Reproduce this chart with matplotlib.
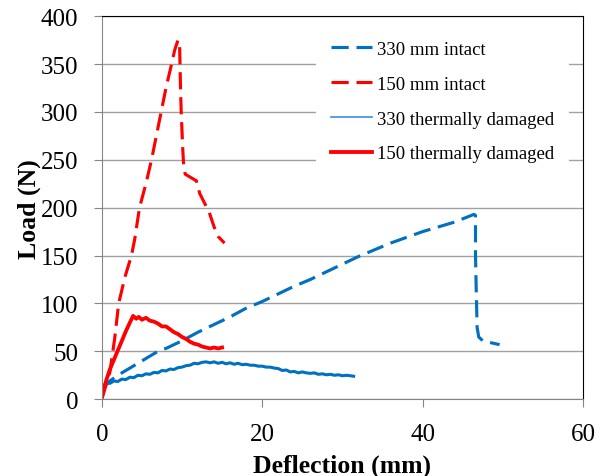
import numpy as np
import matplotlib.pyplot as plt
from matplotlib.lines import Line2D

plt.rcParams['font.family'] = ['Liberation Serif', 'DejaVu Serif']

# 330 mm intact (blue dashed)
x330_intact = [0, 0.5, 1, 2, 3, 4, 5, 6, 7, 8, 9, 10, 12, 14, 16, 18, 20, 22, 24,
               26, 28, 30, 32, 34, 36, 38, 40, 42, 44, 45.5, 46.4, 46.6, 46.6,
               46.7, 46.8, 47.0, 47.5, 48.5, 49.6]
y330_intact = [10, 15, 19, 25, 30, 35, 40, 45, 50, 53, 57, 61, 70, 78, 86, 95, 102,
               110, 118, 125, 133, 141, 149, 156, 163, 169, 175, 180, 185, 190, 193,
               192, 150, 110, 75, 65, 61, 59, 57]

# 150 mm intact (red dashed)
x150_intact = [0, 0.5, 1.0, 1.6, 2.1, 2.9, 3.7, 4.1, 4.7, 5.5, 6.2, 6.8, 7.4, 8.0,
               8.7, 9.1, 9.5, 9.7, 9.8, 9.9, 10.1, 10.2, 10.4, 11.0, 11.8, 12.2,
               12.8, 13.4, 14.0, 14.5, 15.3]
y150_intact = [0, 14, 28, 63, 100, 128, 150, 167, 200, 225, 250, 275, 300, 325,
               350, 365, 375, 370, 330, 300, 260, 245, 235, 232, 228, 215, 205,
               195, 180, 170, 163]

# 330 thermally damaged (blue solid)
x330_dmg = [0, 0.3, 0.6, 1.0, 1.5, 2, 2.5, 3, 3.5, 4, 4.5, 5, 5.5, 6, 6.5, 7, 7.5,
            8, 8.5, 9, 9.5, 10, 10.5, 11, 11.5, 12, 12.5, 13, 13.5, 14, 14.5, 15,
            15.5, 16, 16.5, 17, 17.5, 18, 18.5, 19, 19.5, 20, 20.5, 21, 21.5, 22,
            22.5, 23, 23.5, 24, 24.5, 25, 25.5, 26, 26.5, 27, 27.5, 28, 28.5, 29,
            29.5, 30, 30.5, 31, 31.4]
y330_dmg = [12, 15, 17, 16.5, 19, 18.5, 21, 20.5, 23, 22.5, 25, 24.5, 26.5, 26, 28,
            27.5, 30, 29.5, 31.5, 31, 33, 33.5, 35, 35.5, 37.5, 37, 38.5, 39, 38,
            39, 37.5, 38.5, 37, 38, 36.5, 37.5, 36, 36.5, 35.5, 35.5, 34.5, 34.5,
            33.5, 33.5, 32.5, 32, 30, 30.5, 28.5, 29, 27.5, 28.5, 27.5, 27, 27.5,
            26, 26.5, 25.5, 26, 25, 25.5, 24.5, 25, 24.5, 24]

# 150 thermally damaged (red solid)
x150_dmg = [0, 0.3, 0.6, 1.0, 1.5, 2, 2.5, 3, 3.5, 3.9, 4.3, 4.6, 5, 5.5, 6, 6.5,
            7, 7.5, 8, 8.5, 9, 9.5, 10, 10.5, 11, 11.5, 12, 12.5, 13, 13.5, 14,
            14.5, 15]
y150_dmg = [2, 12, 21, 31, 41, 51, 61, 71, 80, 87, 84, 86, 83, 85, 82, 81, 79, 76,
            76, 73, 70, 68, 65, 63, 60, 58, 57, 55, 54, 53, 54, 53, 54]

labels = ['330 mm intact', '150 mm intact', '330 thermally damaged',
          '150 thermally damaged']

blue = '#0070C0'
red = '#FF0000'

fig = plt.figure(figsize=(6.06, 4.77), dpi=100)
ax = fig.add_axes([0.168, 0.161, 0.794, 0.803])

ax.plot(x330_intact, y330_intact, color=blue, lw=2.25, dashes=(5.5, 2.5))
ax.plot(x150_intact, y150_intact, color=red, lw=2.25, dashes=(5.5, 2.5))
ax.plot(x330_dmg, y330_dmg, color=blue, lw=2.2)
ax.plot(x150_dmg, y150_dmg, color=red, lw=2.75)

ax.set_xlim(0, 60)
ax.set_ylim(0, 400)
ax.set_xticks([0, 20, 40, 60])
ax.set_yticks(range(0, 401, 50))
ax.grid(axis='y', color='#A0A0A0', lw=1)
ax.set_axisbelow(True)

for s in ['left', 'bottom']:
    ax.spines[s].set_color('#868686')
for s in ['top', 'right']:
    ax.spines[s].set_color('black')
ax.tick_params(axis='both', direction='out', color='#868686', length=6,
               labelsize=18)
ax.tick_params(axis='x', pad=11)
ax.tick_params(axis='y', pad=11)

ax.set_xlabel('Deflection (mm)', fontsize=18.5, fontweight='bold', labelpad=6)
ax.set_ylabel('Load (N)', fontsize=18.5, fontweight='bold', labelpad=0)

# legend handles drawn like the source (thin light line for 330 damaged)
handles = [Line2D([], [], color=blue, lw=2.25, dashes=(5.5, 2.5)),
           Line2D([], [], color=red, lw=2.25, dashes=(5.5, 2.5)),
           Line2D([], [], color='#3A8DDE', lw=1.2),
           Line2D([], [], color=red, lw=2.75)]
leg = ax.legend(handles, labels, loc='upper right', bbox_to_anchor=(0.99, 1.0),
                fontsize=13.5, frameon=True, fancybox=False, handlelength=2.2,
                labelspacing=0.95, borderpad=0.8, handletextpad=0.25)
leg.get_frame().set_edgecolor('none')
leg.get_frame().set_facecolor('white')
leg.get_frame().set_alpha(1)

fig.savefig('out.png', dpi=100)
